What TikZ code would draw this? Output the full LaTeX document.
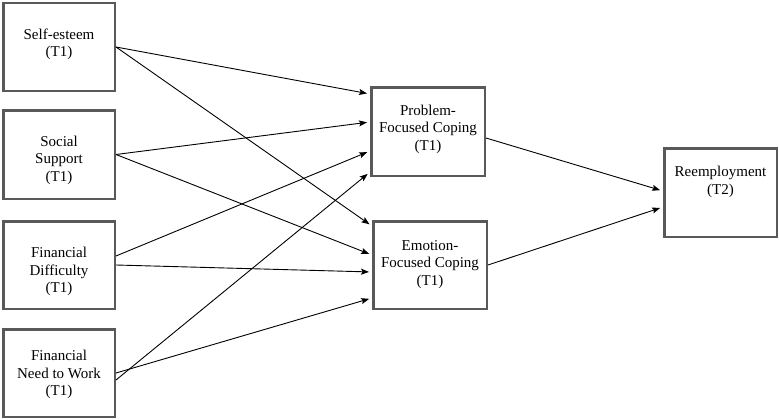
\documentclass[tikz,border=0pt]{standalone}
\usepackage{fontspec}
\setmainfont{Liberation Serif}
\usetikzlibrary{arrows.meta}
\begin{document}
\begin{tikzpicture}[x=1pt,y=-1pt,
  box/.style={draw=black!65, line width=2.5pt, inner sep=0pt, rectangle},
  lbl/.style={align=center, inner sep=0pt, font=\fontsize{15}{17.5}\selectfont},
  arr/.style={line width=0.9pt, -{Stealth[length=8pt,width=6pt,inset=1.5pt]}, shorten >=3pt}
]
\useasboundingbox (0,0) rectangle (779,420);
% boxes
\node[box, minimum width=111.5pt, minimum height=87.5pt] (se) at (59,47) {};
\node[box, minimum width=111.5pt, minimum height=88.5pt] (ss) at (59,154.5) {};
\node[box, minimum width=111.5pt, minimum height=87.5pt] (fd) at (59,265) {};
\node[box, minimum width=111.5pt, minimum height=87.5pt] (fn) at (59,373) {};
\node[box, minimum width=113.5pt, minimum height=88.5pt] (pf) at (428,131.5) {};
\node[box, minimum width=113.5pt, minimum height=87.5pt] (ef) at (430,265) {};
\node[box, minimum width=112.5pt, minimum height=88.5pt] (re) at (720.5,192.5) {};
% labels
\node[lbl] (set) at (59,44.5) {Self-esteem\\(T1)};
\node[lbl] (sst) at (59,160) {Social\\Support\\(T1)};
\node[lbl] (fdt) at (59,271.5) {Financial\\Difficulty\\(T1)};
\node[lbl] (fnt) at (59,374.5) {Financial\\Need to Work\\(T1)};
\node[lbl] (pft) at (428,129) {Problem-\\Focused Coping\\(T1)};
\node[lbl] (eft) at (430,264.5) {Emotion-\\Focused Coping\\(T1)};
\node[lbl] (ret) at (720.5,182) {Reemployment\\(T2)};
% arrows to problem-focused coping
\draw[arr] (se.east) -- ([yshift=37.5pt]pf.west);
\draw[arr] (ss.east) -- ([yshift=9.5pt]pf.west);
\draw[arr] ([yshift=9pt]fd.east) -- ([yshift=-19.5pt]pf.west);
\draw[arr] ([yshift=-7pt]fn.east) -- ([yshift=-40.5pt]pf.west);
% arrows to emotion-focused coping
\draw[arr] (se.east) -- ([yshift=39pt]ef.west);
\draw[arr] (ss.east) -- ([yshift=10pt]ef.west);
\draw[arr] (fd.east) -- ([yshift=-7pt]ef.west);
\draw[arr] (fn.east) -- ([yshift=-33pt]ef.west);
% arrows to reemployment
\draw[arr] ([yshift=-6.5pt]pf.east) -- ([yshift=1.5pt]re.west);
\draw[arr] (ef.east) -- ([yshift=-14.5pt]re.west);
\end{tikzpicture}
\end{document}
